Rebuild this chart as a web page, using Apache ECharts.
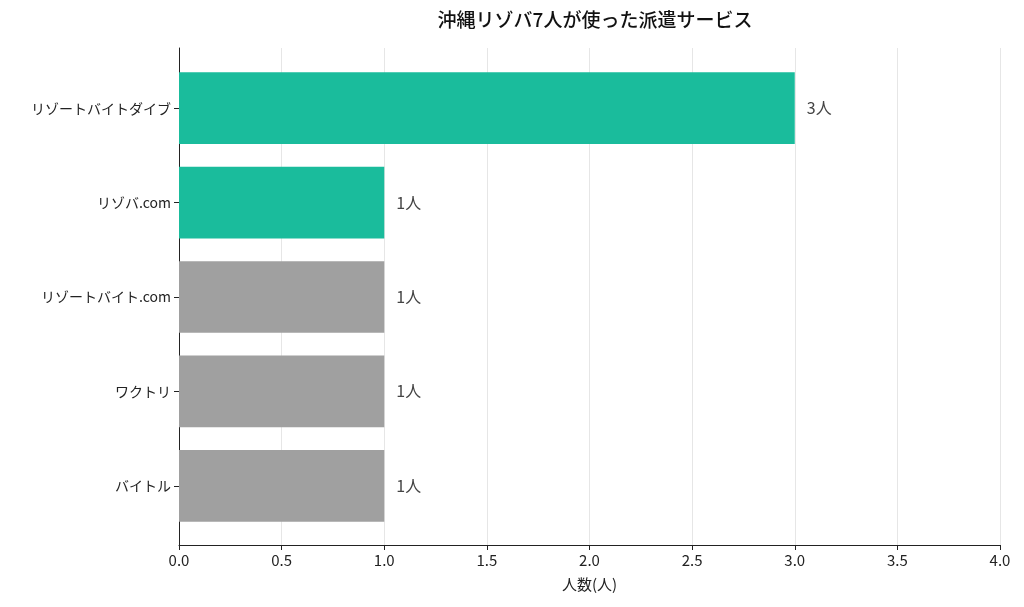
<!DOCTYPE html>
<html><head><meta charset="utf-8">
<script src="https://cdn.jsdelivr.net/npm/echarts@6/dist/echarts.min.js"></script>
<style>html,body{margin:0;padding:0;background:#fff}#c{width:1024px;height:607px}</style>
</head><body><div id="c"></div>
<script>
var categories = ['リゾートバイトダイブ', 'リゾバ.com', 'リゾートバイト.com', 'ワクトリ', 'バイトル'];
var counts = [3, 1, 1, 1, 1];
var colors = ['#1abc9c', '#1abc9c', '#a0a0a0', '#a0a0a0', '#a0a0a0'];
var font = '"Noto Sans CJK JP", "Noto Sans", sans-serif';

var chart = echarts.init(document.getElementById('c'));
chart.setOption({
    textStyle: {fontFamily: font},
    title: {text: '沖縄リゾバ7人が使った派遣サービス', left: 590, top: 5, textAlign: 'center',
        textStyle: {fontFamily: font, fontSize: 19, fontWeight: 500, color: '#111'}},
    grid: [
        {left: 179, right: 24, top: 48, bottom: 62},
        {left: 179, right: 24, top: 61, bottom: 74}
    ],
    xAxis: [{
        gridIndex: 0, type: 'value', min: 0, max: 4, interval: 0.5,
        name: '人数(人)', nameLocation: 'middle', nameGap: 32,
        nameTextStyle: {fontSize: 15, color: '#222'},
        axisLine: {show: true, lineStyle: {color: '#222'}},
        axisTick: {show: true, length: 5, lineStyle: {color: '#222'}},
        axisLabel: {fontSize: 15, color: '#222', formatter: function (v) { return v.toFixed(1); }},
        splitLine: {show: true, lineStyle: {color: '#e6e6e6'}}
    }, {
        gridIndex: 1, type: 'value', min: 0, max: 4, show: false
    }],
    yAxis: [{
        gridIndex: 0, type: 'value', min: 0, max: 1,
        axisLine: {show: true, lineStyle: {color: '#222'}},
        axisTick: {show: false}, axisLabel: {show: false}, splitLine: {show: false}
    }, {
        gridIndex: 1, type: 'category', data: categories, inverse: true,
        axisLine: {show: false},
        axisTick: {show: true, alignWithLabel: true, length: 5, lineStyle: {color: '#222'}},
        axisLabel: {fontSize: 14, color: '#222', margin: 8}
    }],
    series: [{
        type: 'bar', xAxisIndex: 1, yAxisIndex: 1, barWidth: '76%',
        data: counts.map(function (v, i) { return {value: v, itemStyle: {color: colors[i]}}; }),
        label: {show: true, position: 'right', distance: 12, fontSize: 16, color: '#444',
            formatter: function (p) { return p.value + '人'; }}
    }]
});
</script></body></html>
